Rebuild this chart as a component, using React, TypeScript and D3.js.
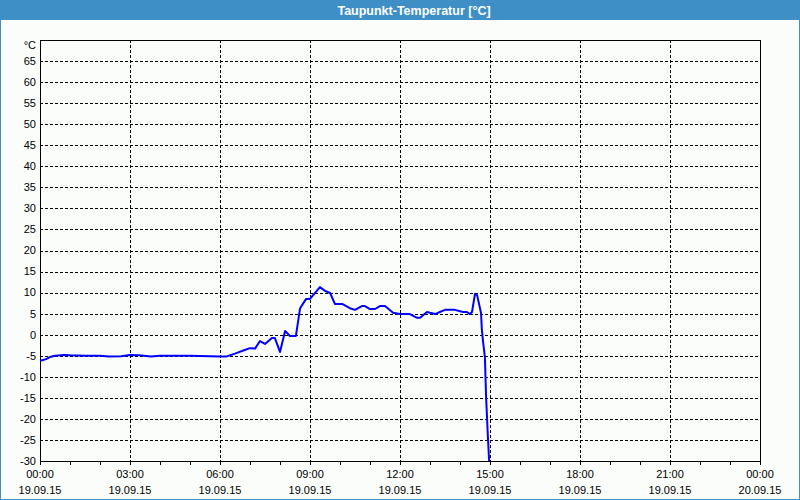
import * as d3 from "d3";
import React, { useEffect, useRef } from "react";

// hours since 19.09.15 00:00
const hours = [
  0, 0.1, 0.2, 0.33, 0.5, 0.8, 1.0, 1.5, 2.0, 2.3, 2.7, 3.0, 3.3, 3.7, 4.0, 5.0, 6.0, 6.2, 6.5, 6.8,
  7.0, 7.17, 7.33, 7.5, 7.73, 7.83, 8.0, 8.17, 8.33, 8.53, 8.67, 8.87, 9.0, 9.33, 9.5, 9.67, 9.83,
  10.07, 10.33, 10.5, 10.73, 10.83, 11.0, 11.17, 11.33, 11.5, 11.77, 12.0, 12.33, 12.57, 12.67, 12.9,
  13.0, 13.17, 13.33, 13.5, 13.83, 14.1, 14.23, 14.33, 14.4, 14.5, 14.57, 14.7, 14.73, 14.77, 14.83,
  14.87, 14.93, 14.97, 15.0,
];
const dewPoint = [
  -6.2, -6.0, -5.8, -5.3, -5.0, -4.8, -4.9, -5.0, -5.0, -5.2, -5.1, -4.8, -4.9, -5.2, -5.0, -5.0, -5.2,
  -5.2, -4.5, -3.7, -3.2, -3.3, -1.5, -2.2, -0.8, -0.8, -4.1, 0.9, -0.3, -0.3, 6.3, 8.5, 8.5, 11.3,
  10.4, 9.9, 7.3, 7.3, 6.3, 5.9, 6.8, 6.8, 6.1, 6.1, 6.8, 6.8, 5.2, 4.9, 4.9, 4.0, 4.0, 5.4, 5.2, 4.9,
  5.4, 5.9, 5.9, 5.4, 5.4, 4.9, 5.4, 9.7, 9.4, 5.2, 1.1, -1.7, -5.3, -14.8, -24.3, -29.8, -32,
];

const timeLabels = ["00:00", "03:00", "06:00", "09:00", "12:00", "15:00", "18:00", "21:00", "00:00"];
const dateLabels = [
  "19.09.15", "19.09.15", "19.09.15", "19.09.15", "19.09.15", "19.09.15", "19.09.15", "19.09.15", "20.09.15",
];
const yTicks = d3.range(-30, 70, 5);

const App: React.FC = () => {
  const svgRef = useRef<SVGSVGElement | null>(null);

  useEffect(() => {
    if (!svgRef.current) return;
    const width = 800;
    const height = 500;
    const left = 40;
    const right = 760;
    const top = 40;
    const bottom = 461;
    const font = "'Liberation Sans', Arial, sans-serif";

    const x = d3.scaleLinear().domain([0, 24]).range([left, right]);
    const y = d3.scaleLinear().domain([-30, 70]).range([bottom, top]);
    const px = (v: number) => Math.round(v) + 0.5;

    const svg = d3.select(svgRef.current);
    svg.selectAll("*").remove();
    svg.attr("width", width).attr("height", height).style("font-family", font);

    svg.append("rect").attr("width", width).attr("height", height).attr("fill", "#fbfdfb");
    svg
      .append("rect")
      .attr("x", 0.5)
      .attr("y", 0.5)
      .attr("width", width - 1)
      .attr("height", height - 1)
      .attr("fill", "none")
      .attr("stroke", "#3d8fc6");
    svg.append("rect").attr("width", width).attr("height", 20).attr("fill", "#3d8fc6");
    svg
      .append("text")
      .attr("x", 414)
      .attr("y", 15)
      .attr("text-anchor", "middle")
      .attr("fill", "#fff")
      .attr("font-size", 12.5)
      .attr("font-weight", "bold")
      .text("Taupunkt-Temperatur [°C]");

    // grid
    const grid = svg.append("g").attr("stroke", "#000").attr("stroke-dasharray", "3,2").attr("shape-rendering", "crispEdges");
    grid
      .selectAll("line.h")
      .data(yTicks.slice(1))
      .join("line")
      .attr("x1", left)
      .attr("x2", right)
      .attr("y1", (d) => px(y(d)))
      .attr("y2", (d) => px(y(d)));
    grid
      .selectAll("line.v")
      .data(d3.range(3, 24, 3))
      .join("line")
      .attr("y1", top)
      .attr("y2", bottom)
      .attr("x1", (d) => px(x(d)))
      .attr("x2", (d) => px(x(d)));

    // hourly ticks
    svg
      .append("g")
      .attr("stroke", "#000")
      .attr("shape-rendering", "crispEdges")
      .selectAll("line")
      .data(d3.range(0, 25, 1))
      .join("line")
      .attr("x1", (d) => px(x(d)))
      .attr("x2", (d) => px(x(d)))
      .attr("y1", bottom)
      .attr("y2", bottom + 4);

    // frame
    svg
      .append("rect")
      .attr("x", px(left))
      .attr("y", px(top))
      .attr("width", right - left)
      .attr("height", bottom - top)
      .attr("fill", "none")
      .attr("stroke", "#000")
      .attr("shape-rendering", "crispEdges");

    // y labels
    const yl = svg.append("g").attr("font-size", 11).attr("text-anchor", "end").attr("fill", "#000");
    yl.selectAll("text")
      .data(yTicks)
      .join("text")
      .attr("x", 36)
      .attr("y", (d) => y(d))
      .attr("dy", "0.35em")
      .text((d) => d);
    yl.append("text").attr("x", 36).attr("y", y(70) + 5).attr("dy", "0.35em").text("°C");

    // x labels
    const xl = svg.append("g").attr("font-size", 11).attr("text-anchor", "middle").attr("fill", "#000");
    xl.selectAll("text.t")
      .data(timeLabels)
      .join("text")
      .attr("x", (_, i) => x(i * 3))
      .attr("y", 478)
      .text((d) => d);
    xl.selectAll("text.d")
      .data(dateLabels)
      .join("text")
      .attr("class", "d")
      .attr("x", (_, i) => x(i * 3))
      .attr("y", 494)
      .text((d) => d);

    // line
    svg
      .append("clipPath")
      .attr("id", "plot-clip")
      .append("rect")
      .attr("x", left)
      .attr("y", top)
      .attr("width", right - left)
      .attr("height", bottom - top);
    const line = d3
      .line<number>()
      .x((_, i) => x(hours[i]))
      .y((d) => y(d));
    svg
      .append("path")
      .attr("clip-path", "url(#plot-clip)")
      .attr("d", line(dewPoint))
      .attr("fill", "none")
      .attr("stroke", "#0000ff")
      .attr("stroke-width", 2)
      .attr("stroke-linejoin", "round");
  }, []);

  return <svg ref={svgRef} style={{ position: "absolute", left: 0, top: 0 }}></svg>;
};

export default App;
